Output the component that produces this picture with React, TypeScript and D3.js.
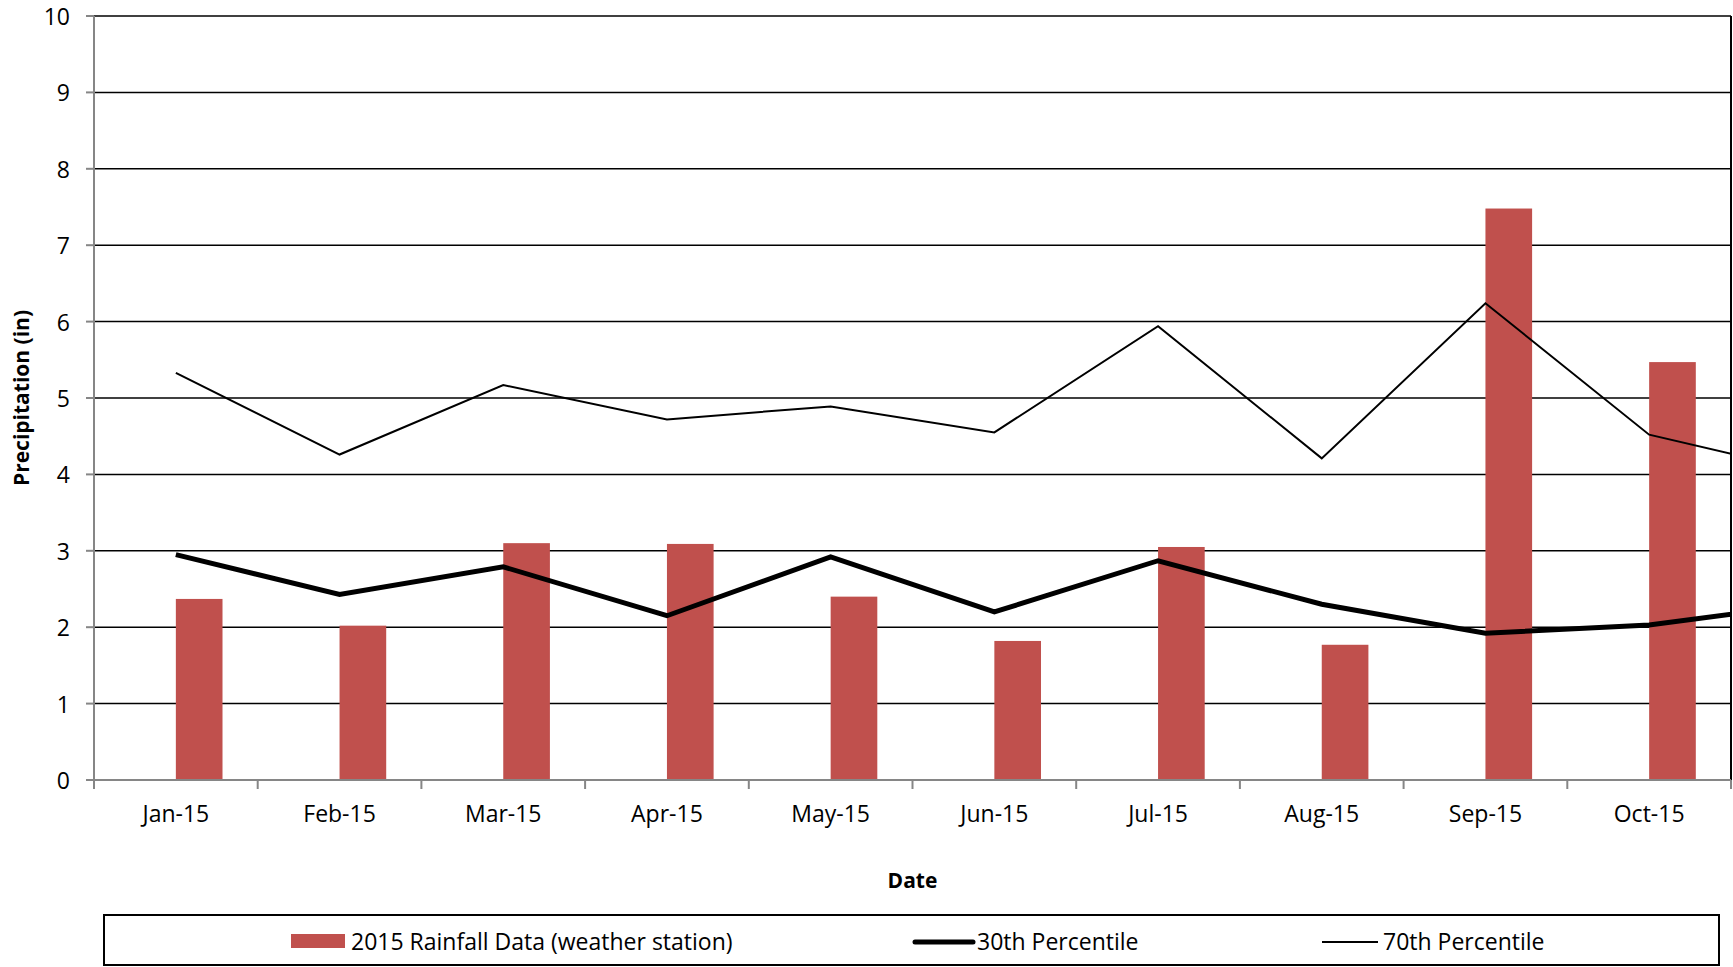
import React from "react";
import * as d3 from "d3";

const months = ["Jan-15", "Feb-15", "Mar-15", "Apr-15", "May-15", "Jun-15", "Jul-15", "Aug-15", "Sep-15", "Oct-15"];
// line series continue into the next (off-chart) month, which is clipped at the plot edge
const lineMonths = [...months, "Nov-15"];
const rainfall = [2.37, 2.02, 3.1, 3.09, 2.4, 1.82, 3.05, 1.77, 7.48, 5.47];
const p30 = [2.95, 2.43, 2.79, 2.15, 2.92, 2.2, 2.87, 2.3, 1.92, 2.03, 2.31];
const p70 = [5.33, 4.26, 5.17, 4.72, 4.89, 4.55, 5.94, 4.21, 6.24, 4.52, 4.02];
const yTicks = [0, 1, 2, 3, 4, 5, 6, 7, 8, 9, 10];

const W = 1733;
const H = 967;
const L = 94;
const R = 1731;
const T = 16;
const B = 780;
const FONT = "'Open Sans', sans-serif";
const BAR = "#C0504D";
const FS = 23;

export default function App() {
  const x = d3.scaleBand<string>().domain(months).range([L, R]).padding(0);
  const bw = x.bandwidth();
  const xi = d3.scaleLinear().domain([-0.5, months.length - 0.5]).range([L, R]);
  const y = d3.scaleLinear().domain([0, 10]).range([B, T]);
  const barW = bw * 0.285;

  const line = d3
    .line<number>()
    .x((_, i) => xi(i))
    .y((d) => y(d));

  return (
    <svg
      width={W}
      height={H}
      style={{ position: "absolute", left: 0, top: 0, background: "#fff" }}
      fontFamily={FONT}
    >
      <defs>
        <clipPath id="plot">
          <rect x={L} y={T - 5} width={R - L} height={B - T + 10} />
        </clipPath>
      </defs>
      <rect x={0} y={0} width={W} height={H} fill="#fff" />

      {/* gridlines */}
      {yTicks.map((t) => (
        <line key={t} x1={L} x2={R} y1={y(t)} y2={y(t)} stroke="#000" strokeWidth={1.5} />
      ))}
      {/* right border */}
      <line x1={R} x2={R} y1={T} y2={B} stroke="#000" strokeWidth={2} />

      {/* bars */}
      {months.map((m, i) => (
        <rect
          key={m}
          x={x(m)! + bw / 2}
          y={y(rainfall[i])}
          width={barW}
          height={B - y(rainfall[i])}
          fill={BAR}
        />
      ))}

      {/* lines */}
      <g clipPath="url(#plot)">
        <path d={line(p30)!} fill="none" stroke="#000" strokeWidth={5} strokeLinejoin="miter" />
        <path d={line(p70)!} fill="none" stroke="#000" strokeWidth={2} strokeLinejoin="miter" />
      </g>

      {/* y axis */}
      <line x1={L} x2={L} y1={T} y2={B + 8} stroke="#868686" strokeWidth={2} />
      {yTicks.map((t) => (
        <g key={t}>
          <line x1={L - 8} x2={L} y1={y(t)} y2={y(t)} stroke="#868686" strokeWidth={2} />
          <text x={70} y={y(t)} textAnchor="end" dominantBaseline="central" fontSize={FS} fill="#000">
            {t}
          </text>
        </g>
      ))}

      {/* x axis */}
      <line x1={L} x2={R} y1={B} y2={B} stroke="#868686" strokeWidth={2} />
      {d3.range(months.length + 1).map((i) => (
        <line key={i} x1={xi(i - 0.5)} x2={xi(i - 0.5)} y1={B} y2={B + 9} stroke="#868686" strokeWidth={2} />
      ))}
      {months.map((m) => (
        <text key={m} x={x(m)! + bw / 2} y={822} textAnchor="middle" fontSize={FS} fill="#000">
          {m}
        </text>
      ))}

      {/* axis titles */}
      <text x={(L + R) / 2} y={888} textAnchor="middle" fontSize={21} fontWeight="bold" fill="#000">
        Date
      </text>
      <text
        transform={`translate(29,398) rotate(-90)`}
        textAnchor="middle"
        fontSize={21}
        fontWeight="bold"
        fill="#000"
      >
        Precipitation (in)
      </text>

      {/* legend */}
      <rect x={104} y={915} width={1615} height={50} fill="#fff" stroke="#000" strokeWidth={2} />
      <rect x={291} y={934} width={54} height={14} fill={BAR} />
      <text x={351} y={950} fontSize={FS} fill="#000">
        2015 Rainfall Data (weather station)
      </text>
      <line x1={915} x2={973} y1={942} y2={942} stroke="#000" strokeWidth={5} strokeLinecap="round" />
      <text x={977} y={950} fontSize={FS} fill="#000">
        30th Percentile
      </text>
      <line x1={1322} x2={1378} y1={942} y2={942} stroke="#000" strokeWidth={2} />
      <text x={1383} y={950} fontSize={FS} fill="#000">
        70th Percentile
      </text>
    </svg>
  );
}
